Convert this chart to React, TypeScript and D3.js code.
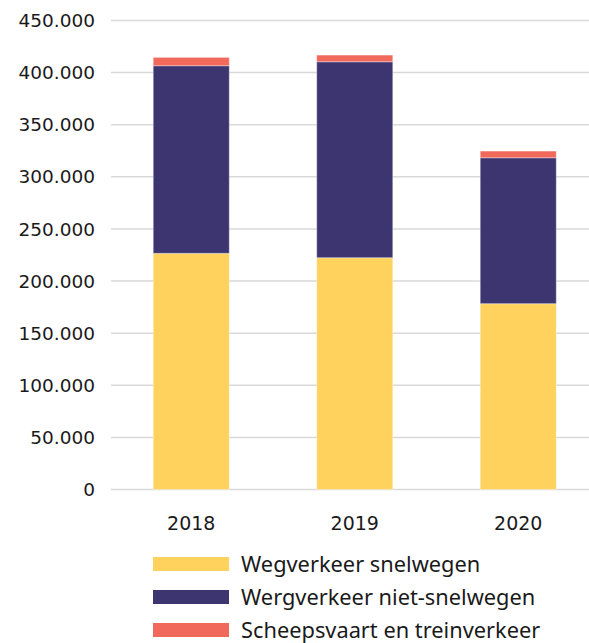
import { useEffect, useRef } from "react";
import * as d3 from "d3";

const years = ["2018", "2019", "2020"];
const snelwegen = [226600, 222400, 178300];
const nietSnelwegen = [180000, 188000, 140000];
const scheepsTrein = [8000, 6400, 6400];
const seriesNames = ["Wegverkeer snelwegen", "Wergverkeer niet-snelwegen", "Scheepsvaart en treinverkeer"];
const seriesColors = ["#fed25c", "#3d3570", "#f0695a"];
const yTicks = [0, 50000, 100000, 150000, 200000, 250000, 300000, 350000, 400000, 450000];

const W = 589;
const H = 643;
const AXIS_FONT = "'DejaVu Sans', sans-serif";
const LEGEND_FONT = "'Noto Sans', sans-serif";

const App = () => {
    const ref: any = useRef<SVGSVGElement>(null);

    useEffect(() => {
        const svg = d3.select(ref.current);
        svg.selectAll("*").remove();

        const rows = years.map((y, i) => ({
            year: y,
            s0: snelwegen[i],
            s1: nietSnelwegen[i],
            s2: scheepsTrein[i],
        }));
        const stacked = d3.stack<any>().keys(["s0", "s1", "s2"])(rows);

        const x = d3.scaleBand().domain(years).range([109.5, 600]).paddingInner(0.535).paddingOuter(0.2675);
        const y = d3.scaleLinear().domain([0, 450000]).range([489.5, 20.5]);

        svg.append("g")
            .selectAll("line")
            .data(yTicks)
            .join("line")
            .attr("x1", 111)
            .attr("x2", 589)
            .attr("y1", (d) => y(d))
            .attr("y2", (d) => y(d))
            .attr("stroke", "#d9d9d9")
            .attr("stroke-width", 1.5);

        svg.append("g")
            .selectAll("text")
            .data(yTicks)
            .join("text")
            .attr("x", 95)
            .attr("y", (d) => y(d))
            .attr("dy", "0.36em")
            .attr("text-anchor", "end")
            .attr("font-family", AXIS_FONT)
            .attr("font-size", 18.5)
            .attr("fill", "#1a1a1a")
            .text((d) => d3.format(",")(d).replace(/,/g, "."));

        svg.append("g")
            .selectAll("g")
            .data(stacked)
            .join("g")
            .attr("fill", (_d, i) => seriesColors[i])
            .selectAll("rect")
            .data((d) => d)
            .join("rect")
            .attr("x", (d: any) => x(d.data.year) as number)
            .attr("width", x.bandwidth())
            .attr("y", (d) => y(d[1]))
            .attr("height", (d) => y(d[0]) - y(d[1]))
            .attr("stroke", "rgba(255,255,255,0.35)")
            .attr("stroke-width", 1);

        svg.append("g")
            .selectAll("text")
            .data(years)
            .join("text")
            .attr("x", (d) => (x(d) as number) + x.bandwidth() / 2)
            .attr("y", 523)
            .attr("dy", "0.36em")
            .attr("text-anchor", "middle")
            .attr("font-family", AXIS_FONT)
            .attr("font-size", 19)
            .attr("fill", "#1a1a1a")
            .text((d) => d);

        const legend = svg.append("g")
            .selectAll("g")
            .data(seriesNames)
            .join("g")
            .attr("transform", (_d, i) => `translate(153, ${564 + i * 33})`);
        legend.append("rect")
            .attr("x", 0)
            .attr("y", -7)
            .attr("width", 76)
            .attr("height", 14)
            .attr("fill", (_d, i) => seriesColors[i]);
        legend.append("text")
            .attr("x", 88)
            .attr("y", 0)
            .attr("dy", "0.35em")
            .attr("font-family", LEGEND_FONT)
            .attr("font-size", 21.8)
            .attr("fill", "#1a1a1a")
            .text((d) => d);
    }, []);

    return (
        <svg ref={ref} width={W} height={H} style={{ position: "absolute", left: 0, top: 0, background: "#fff" }} />
    );
};

export default App;
